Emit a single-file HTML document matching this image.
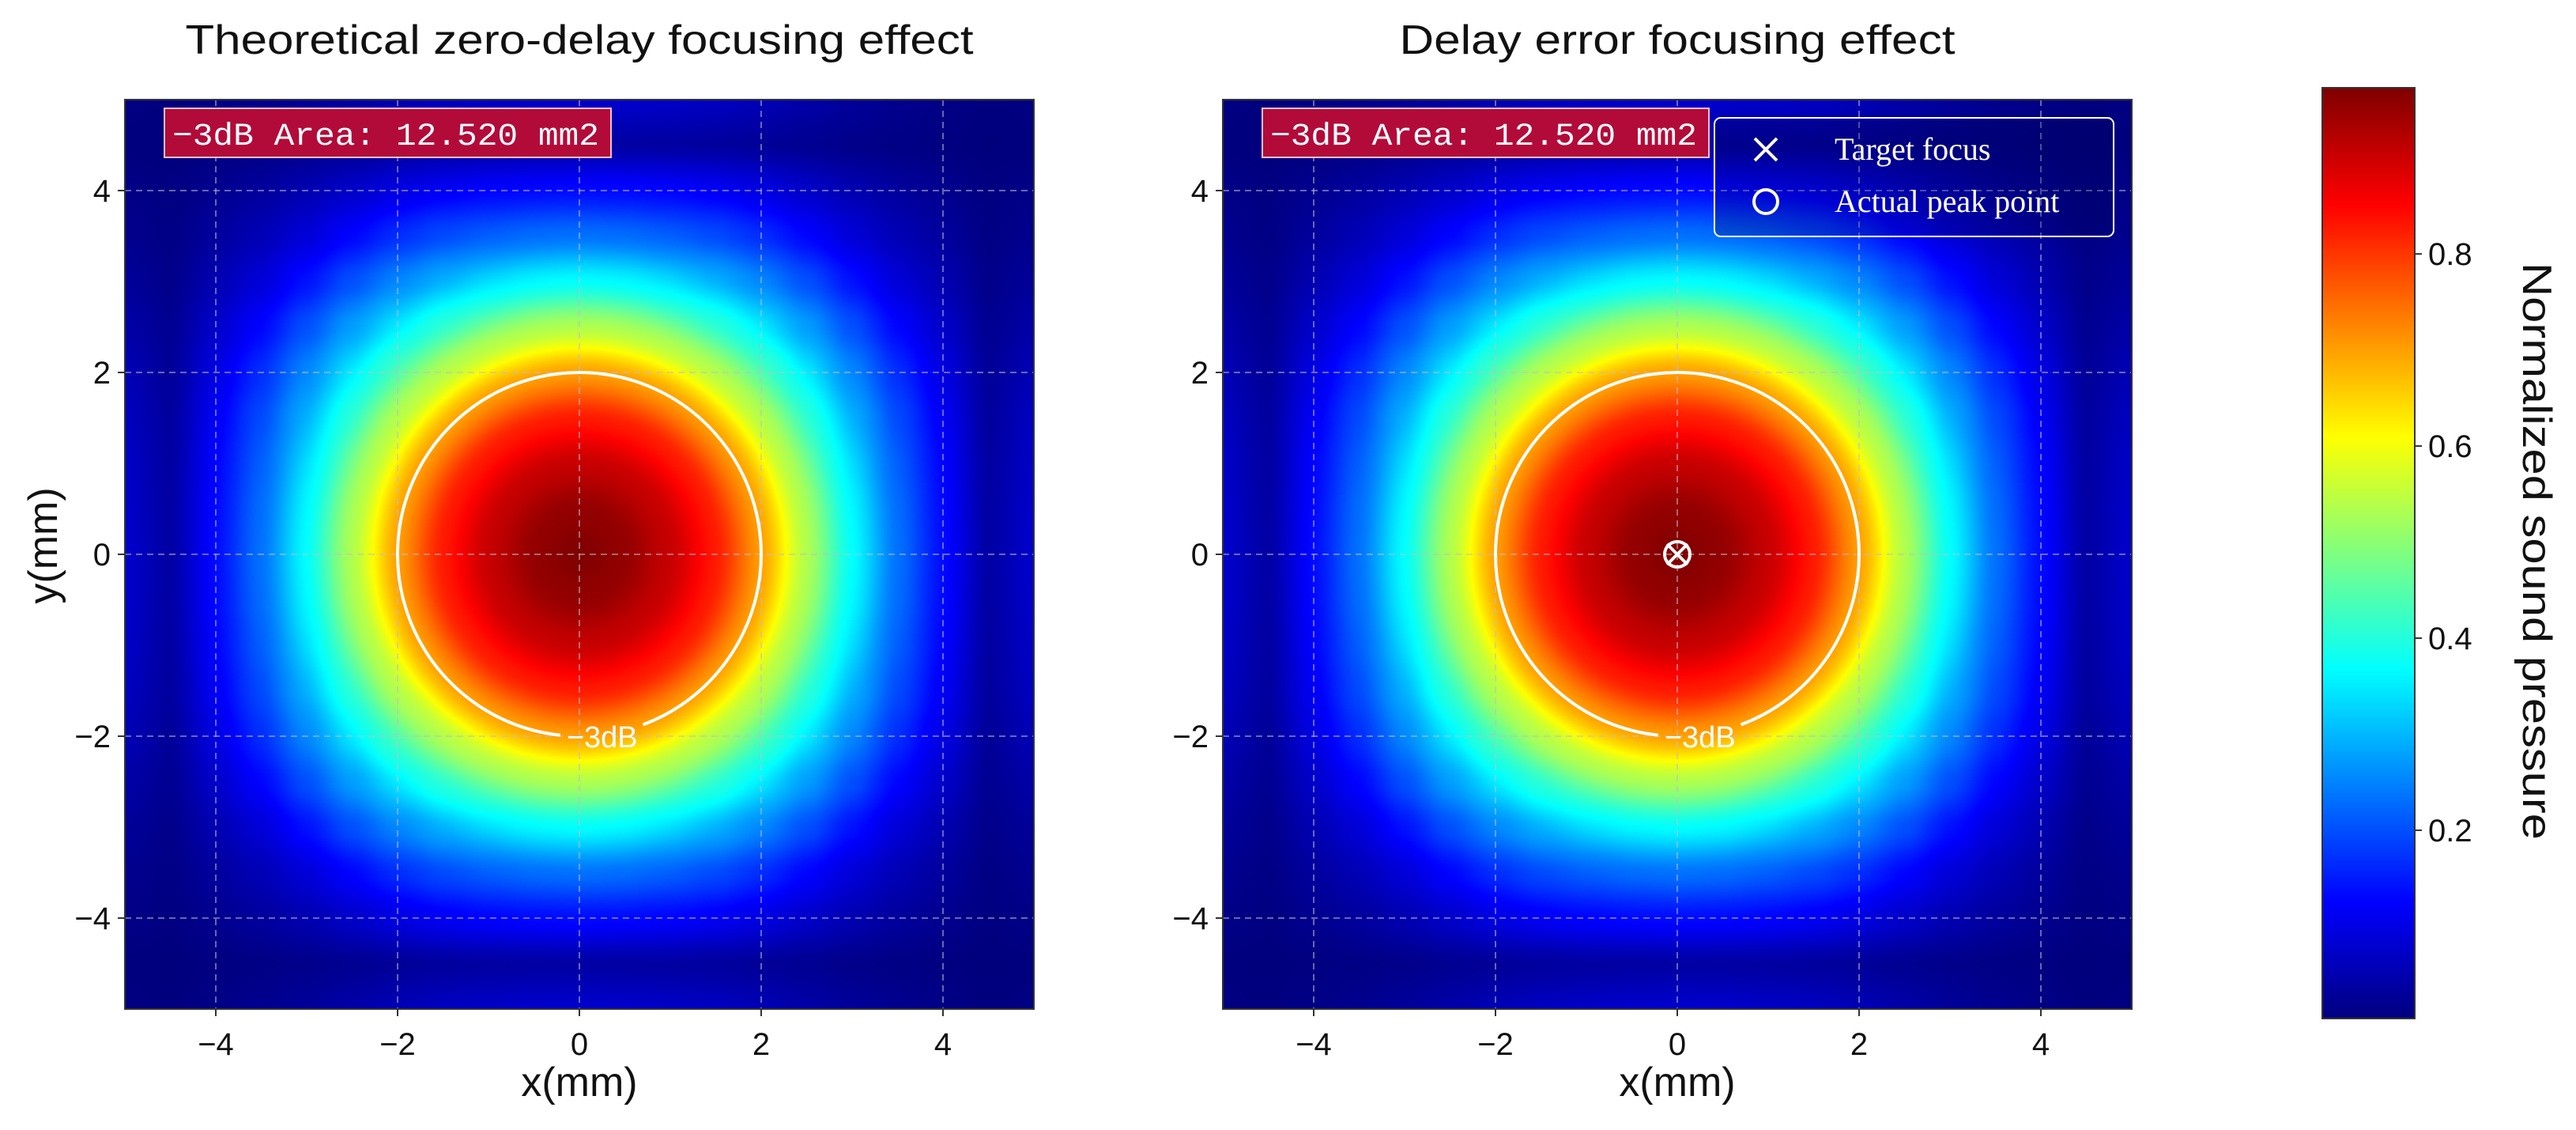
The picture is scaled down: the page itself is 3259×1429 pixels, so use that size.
<!DOCTYPE html>
<html><head><meta charset="utf-8">
<style>
html,body{margin:0;padding:0;background:#fff;}
#wrap{position:relative;width:3259px;height:1429px;overflow:hidden;}
canvas,svg{position:absolute;left:0;top:0;}
</style></head>
<body>
<div id="wrap">
<canvas id="hm1" width="575" height="575" style="left:158px;top:126px;width:1150px;height:1150px;"></canvas>
<canvas id="hm2" width="575" height="575" style="left:1547px;top:126px;width:1150px;height:1150px;"></canvas>
<canvas id="cb" width="1" height="600" style="left:2938px;top:111px;width:117px;height:1177px;"></canvas>
<svg id="ov" width="3259" height="1429"></svg>
</div>
<script>
// ---- data ----
const profileX = [0,0.5,1,1.5,2,2.5,3,3.5,4,4.5,5];           // mm from focus
const profileVal = [1.0,0.98,0.93,0.85,0.72,0.55,0.38,0.24,0.14,0.04,0.08]; // normalized pressure
const peakValue = 0.973;
const colorMin = 0.004, colorMax = 0.973;
const xTicks = [-4,-2,0,2,4];
const yTicks = [-4,-2,0,2,4];
const cbTicks = [0.2,0.4,0.6,0.8];
const contourRadius = [2.0];
const areaText = ["−3dB Area: 12.520 mm2"];
const legendLabels = ["Target focus","Actual peak point"];
const targetFocus = [0,0];
const actualPeak = [0,0];

function prof(d){
  d=Math.abs(d); if(d>=5) return profileVal[10];
  const i=Math.floor(d/0.5), t=(d-profileX[i])/0.5;
  const s=t*t*(3-2*t)*0.5+t*0.5;
  return profileVal[i]*(1-s)+profileVal[i+1]*s;
}
function field(x,y){
  const r=Math.hypot(x,y);
  const s=Math.max(0,Math.min(1,(4.0-r)/1.6));
  return peakValue*(prof(r)*s+prof(x)*prof(y)*(1-s));
}
function jet(v){
  const c=x=>Math.max(0,Math.min(1,x));
  const r=c(1.5-Math.abs(4*v-3)), g=c(1.5-Math.abs(4*v-2)), b=c(1.5-Math.abs(4*v-1));
  return [r*255,g*255,b*255];
}
function norm(v){return (v-colorMin)/(colorMax-colorMin);}
function drawHM(id){
  const cv=document.getElementById(id),ctx=cv.getContext('2d');
  const N=cv.width,img=ctx.createImageData(N,N);
  for(let j=0;j<N;j++){const y=5-10*(j+0.5)/N;
    for(let i=0;i<N;i++){const x=-5+10*(i+0.5)/N;
      const c=jet(norm(field(x,y))); const k=(j*N+i)*4;
      img.data[k]=c[0];img.data[k+1]=c[1];img.data[k+2]=c[2];img.data[k+3]=255;}}
  ctx.putImageData(img,0,0);
}
drawHM('hm1');drawHM('hm2');
(function(){const cv=document.getElementById('cb'),ctx=cv.getContext('2d');const img=ctx.createImageData(1,600);
for(let j=0;j<600;j++){const c=jet(1-(j+0.5)/600);img.data[j*4]=c[0];img.data[j*4+1]=c[1];img.data[j*4+2]=c[2];img.data[j*4+3]=255;}
ctx.putImageData(img,0,0);})();

// ---- overlay ----
const NS='http://www.w3.org/2000/svg', ov=document.getElementById('ov');
function el(tag,attrs,parent,text){const e=document.createElementNS(NS,tag);for(const k in attrs)e.setAttribute(k,attrs[k]);if(text!==undefined)e.textContent=text;(parent||ov).appendChild(e);return e;}
const SANS='"Liberation Sans", sans-serif';
const axesList=[{x0:158,title:"Theoretical zero-delay focusing effect",tw:997,name:'theoretical',legend:false},
                {x0:1547,title:"Delay error focusing effect",tw:703,name:'delay-error',legend:true}];
const top0=126,size=1150;
axesList.forEach((A,ai)=>{
  const g=el('g',{});
  
  
  const sx=v=>A.x0+(v+5)/10*size, sy=v=>top0+(5-v)/10*size;
  xTicks.forEach(t=>{
    const l=el('line',{x1:sx(t),x2:sx(t),y1:top0,y2:top0+size,stroke:'rgba(190,190,200,0.55)','stroke-width':2,'stroke-dasharray':'8,6'},g);
    
    
    el('line',{x1:sx(t),x2:sx(t),y1:top0+size,y2:top0+size+9,stroke:'#333','stroke-width':2},g);
    const tx=el('text',{x:sx(t),y:top0+size+58,'font-family':SANS,'font-size':40,'text-anchor':'middle',fill:'#111'},g,(t<0?'−':'')+Math.abs(t));
    
    
  });
  yTicks.forEach(t=>{
    const l=el('line',{x1:A.x0,x2:A.x0+size,y1:sy(t),y2:sy(t),stroke:'rgba(190,190,200,0.55)','stroke-width':2,'stroke-dasharray':'8,6'},g);
    
    
    el('line',{x1:A.x0-9,x2:A.x0,y1:sy(t),y2:sy(t),stroke:'#333','stroke-width':2},g);
    const tx=el('text',{x:A.x0-18,y:sy(t)+14,'font-family':SANS,'font-size':40,'text-anchor':'end',fill:'#111'},g,(t<0?'−':'')+Math.abs(t));
    
    
  });
  const fr=el('rect',{x:A.x0,y:top0,width:size,height:size,fill:'none',stroke:'#333','stroke-width':2},g);
  
  
  const cx=sx(0),cy=sy(0),r=contourRadius[0]/10*size;
  const gx1=sx(-0.21),gx2=sx(0.7);
  const a1=Math.acos((gx1-cx)/r), a2=Math.acos((gx2-cx)/r);
  const p1=[cx+r*Math.cos(a1),cy+r*Math.sin(a1)], p2=[cx+r*Math.cos(a2),cy+r*Math.sin(a2)];
  const cp=el('path',{d:`M${p1[0]},${p1[1]} A${r},${r} 0 1 1 ${p2[0]},${p2[1]}`,fill:'none',stroke:'#fff','stroke-width':4},g);
  
  
  const cl=el('text',{x:sx(0.25),y:sy(-2)+14,'font-family':SANS,'font-size':38,'text-anchor':'middle',fill:'#fff'},g,'−3dB');
  
  
  const bx=el('rect',{x:A.x0+50,y:137,width:565,height:62,fill:'#b20b3a',stroke:'#f0c0c8','stroke-width':2},g);
  
  
  const bt=el('text',{x:A.x0+60,y:183,'font-family':'"Liberation Mono", monospace','font-size':40,fill:'#fff',textLength:540,lengthAdjust:'spacingAndGlyphs'},g,areaText[0]);
  
  
  const ti=el('text',{x:A.x0+size/2,y:68,'font-family':SANS,'font-size':52,'text-anchor':'middle',fill:'#111',textLength:A.tw,lengthAdjust:'spacingAndGlyphs'},g,A.title);
  
  
  const xl=el('text',{x:A.x0+size/2,y:1386,'font-family':SANS,'font-size':52,'text-anchor':'middle',fill:'#111'},g,'x(mm)');
  
  
  if(ai===0){
    const yl=el('text',{x:0,y:0,'font-family':SANS,'font-size':52,'text-anchor':'middle',fill:'#111',transform:'translate(72,690) rotate(-90)'},g,'y(mm)');
    
    
  }
  if(A.legend){
    const pc=el('circle',{cx:sx(actualPeak[0]),cy:sy(actualPeak[1]),r:16,fill:'none',stroke:'#fff','stroke-width':4},g);
    
    
    const tfx=sx(targetFocus[0]),tfy=sy(targetFocus[1]);
    const tf=el('path',{d:`M${tfx-13},${tfy-13}L${tfx+13},${tfy+13}M${tfx-13},${tfy+13}L${tfx+13},${tfy-13}`,stroke:'#fff','stroke-width':4},g);
    
    
    const lg=el('g',{},g);
    
    
    el('rect',{x:2169,y:149,width:505,height:150,rx:8,fill:'rgba(0,0,80,0.25)',stroke:'#fff','stroke-width':2},lg);
    el('path',{d:'M2220,175L2248,203M2220,203L2248,175',stroke:'#fff','stroke-width':4},lg);
    el('circle',{cx:2234,cy:255,r:15,fill:'none',stroke:'#fff','stroke-width':4},lg);
    legendLabels.forEach((s,i)=>{
      const t=el('text',{x:2321,y:202+i*66,'font-family':'"Liberation Serif", serif','font-size':40,fill:'#fff'},lg,s);
      
      
    });
  }
});
const cbg=el('g',{});


el('rect',{x:2938,y:111,width:117,height:1177,fill:'none',stroke:'#333','stroke-width':2},cbg);
const cby=v=>111+(colorMax-v)/(colorMax-colorMin)*1177;
cbTicks.forEach(t=>{
  el('line',{x1:3055,x2:3064,y1:cby(t),y2:cby(t),stroke:'#333','stroke-width':2},cbg);
  const tx=el('text',{x:3072,y:cby(t)+14,'font-family':SANS,'font-size':40,fill:'#111'},cbg,t.toFixed(1));
  
  
});
const cbl=el('text',{x:0,y:0,'font-family':SANS,'font-size':52,'text-anchor':'middle',fill:'#111',transform:'translate(3192,697) rotate(90)',textLength:730,lengthAdjust:'spacingAndGlyphs'},cbg,'Normalized sound pressure');


</script>
</body></html>
